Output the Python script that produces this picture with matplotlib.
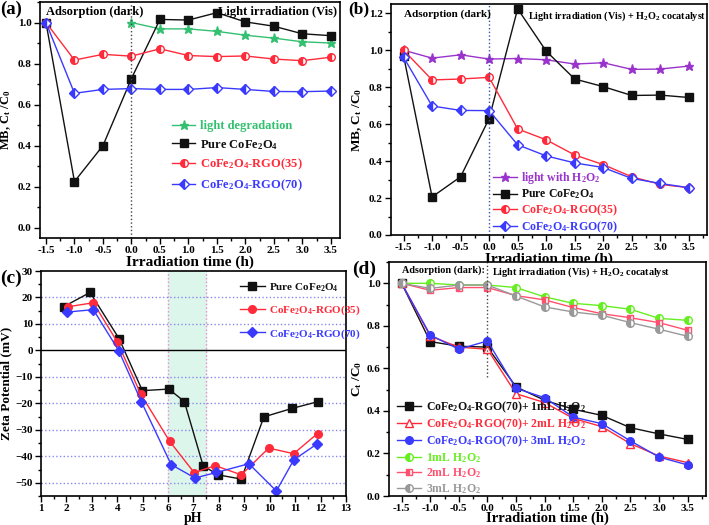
import matplotlib
matplotlib.use("Agg")
import matplotlib.pyplot as plt
from matplotlib.ticker import MultipleLocator

plt.rcParams['font.family'] = ['Liberation Serif', 'DejaVu Serif']
plt.rcParams['font.weight'] = 'bold'
plt.rcParams['axes.labelweight'] = 'bold'
plt.rcParams['mathtext.fontset'] = 'custom'
plt.rcParams['mathtext.rm'] = 'Liberation Serif:bold'
plt.rcParams['mathtext.it'] = 'Liberation Serif:bold'
plt.rcParams['mathtext.bf'] = 'Liberation Serif:bold'

# Zeit [h]
t = [-1.5, -1.0, -0.5, 0.0, 0.5, 1.0, 1.5, 2.0, 2.5, 3.0, 3.5]
t_light = [0.0, 0.5, 1.0, 1.5, 2.0, 2.5, 3.0, 3.5]

# (a) ohne H2O2
a_light = [1.0, 0.969, 0.969, 0.957, 0.938, 0.924, 0.906, 0.90]
a_pure = [1.0, 0.225, 0.40, 0.727, 1.015, 1.012, 1.048, 1.003, 0.982, 0.945, 0.936]
a_rgo35 = [1.0, 0.817, 0.845, 0.836, 0.872, 0.839, 0.834, 0.837, 0.822, 0.814, 0.831]
a_rgo70 = [1.0, 0.655, 0.674, 0.678, 0.674, 0.674, 0.683, 0.674, 0.664, 0.663, 0.666]

# (b) mit H2O2
b_light = [1.0, 0.957, 0.975, 0.952, 0.955, 0.948, 0.925, 0.932, 0.896, 0.898, 0.914]
b_pure = [0.97, 0.206, 0.315, 0.63, 1.224, 0.995, 0.844, 0.803, 0.755, 0.757, 0.744]
b_rgo35 = [1.0, 0.839, 0.844, 0.853, 0.574, 0.515, 0.433, 0.381, 0.315, 0.274, 0.256]
b_rgo70 = [0.962, 0.698, 0.674, 0.673, 0.488, 0.428, 0.39, 0.365, 0.306, 0.279, 0.256]

# (c) Zeta-Potential [mV]
ph_pure = [1.89, 2.93, 4.07, 4.99, 6.03, 6.64, 7.38, 7.97, 8.88, 9.77, 10.88, 11.88]
z_pure = [16.5, 21.9, 4.5, -15.2, -14.6, -19.3, -43.6, -47.0, -48.6, -25.1, -21.9, -19.4]
ph_rgo35 = [2.06, 3.06, 4.01, 4.92, 6.06, 7.03, 7.85, 8.88, 9.96, 10.94, 11.88]
z_rgo35 = [16.5, 18.0, 3.1, -16.4, -34.3, -46.2, -43.5, -47.0, -36.9, -39.0, -31.4]
ph_rgo70 = [2.04, 3.06, 4.06, 4.95, 6.12, 7.06, 7.9, 9.18, 10.26, 10.95, 11.85]
z_rgo70 = [14.5, 15.4, -0.1, -19.4, -43.1, -48.2, -46.1, -42.8, -53.1, -41.3, -35.4]

# (d) H2O2-Menge
d_rgo_1ml = [1.0, 0.726, 0.704, 0.70, 0.513, 0.45, 0.408, 0.379, 0.321, 0.292, 0.266]
d_rgo_2ml = [1.0, 0.752, 0.70, 0.69, 0.481, 0.439, 0.365, 0.326, 0.246, 0.188, 0.157]
d_rgo_3ml = [1.0, 0.757, 0.69, 0.729, 0.506, 0.462, 0.371, 0.34, 0.259, 0.183, 0.146]
d_1ml = [1.0, 1.0, 0.992, 0.992, 0.98, 0.936, 0.906, 0.895, 0.878, 0.835, 0.826]
d_2ml = [1.0, 0.967, 0.98, 0.98, 0.942, 0.922, 0.886, 0.857, 0.838, 0.815, 0.779]
d_3ml = [1.0, 0.976, 0.992, 0.992, 0.94, 0.889, 0.865, 0.85, 0.815, 0.784, 0.751]

BLACK = '#111111'
RED = '#ff2a3a'
BLUE = '#3a3aff'
GREEN = '#33c070'
PURPLE = '#9933cc'
LIME = '#66ee22'
PINK = '#ff5070'
GRAY = '#999999'

fig = plt.figure(figsize=(7.09, 5.25), dpi=100)
ax_a = fig.add_axes([0.0564, 0.5467, 0.4231, 0.4495])
ax_b = fig.add_axes([0.5515, 0.5524, 0.4457, 0.440])
ax_c = fig.add_axes([0.0578, 0.0552, 0.4302, 0.4286])
ax_d = fig.add_axes([0.5487, 0.0552, 0.4471, 0.4457])


def style(ax):
    for s in ax.spines.values():
        s.set_linewidth(1.2)
    ax.tick_params(which='both', direction='out', top=False, right=False,
                   labelsize=8, width=1.0)
    ax.tick_params(which='major', length=4, pad=2)
    ax.tick_params(which='minor', length=2.5)
    for lab in ax.get_xticklabels() + ax.get_yticklabels():
        lab.set_fontweight('bold')


def time_axis(ax, lo=-1.72, hi=3.82):
    ax.set_xticks(t)
    ax.set_xticklabels(['%.1f' % v for v in t])
    ax.xaxis.set_minor_locator(MultipleLocator(0.25))
    ax.set_xlim(lo, hi)
    ax.set_xlabel('Irradiation time (h)', fontsize=11, labelpad=0)


def color_legend(leg):
    for txt, h in zip(leg.get_texts(), leg.legend_handles):
        txt.set_color(h.get_color())


ms = 5.5

# ---- (a) ----
ax = ax_a
ax.plot(t_light, a_light, color=GREEN, marker='*', ms=6.5, lw=1, label='light degradation')
ax.plot(t, a_pure, color=BLACK, marker='s', ms=ms, lw=1, label='Pure CoFe$_2$O$_4$')
ax.plot(t, a_rgo35, color=RED, marker='o', ms=ms, lw=1, fillstyle='left',
        markerfacecoloralt='white', label='CoFe$_2$O$_4$-RGO(35)')
ax.plot(t, a_rgo70, color=BLUE, marker='D', ms=ms - 0.5, lw=1, fillstyle='left',
        markerfacecoloralt='white', label='CoFe$_2$O$_4$-RGO(70)')
ax.axvline(0, color='#444444', ls=':', lw=1)
time_axis(ax, -1.605, 3.66)
ax.set_ylim(-0.05, 1.1)
ax.yaxis.set_major_locator(MultipleLocator(0.2))
ax.yaxis.set_minor_locator(MultipleLocator(0.1))
ax.set_ylabel('MB, C$_t$ /C$_0$', fontsize=9)
ax.yaxis.set_label_coords(-0.09, 0.5)
ax.text(-1.5, 1.08, 'Adsorption (dark)', fontsize=9, va='top')
ax.text(3.6, 1.08, 'Light irradiation (Vis)', fontsize=9, va='top', ha='right')
leg = ax.legend(loc='upper left', bbox_to_anchor=(0.41, 0.535), frameon=False,
                fontsize=9, handlelength=1.9, labelspacing=0.42, handletextpad=0.4,
                borderpad=0.2)
color_legend(leg)
style(ax)

# ---- (b) ----
ax = ax_b
ax.plot(t, b_light, color=PURPLE, marker='*', ms=6.5, lw=1, label='light with H$_2$O$_2$')
ax.plot(t, b_pure, color=BLACK, marker='s', ms=ms, lw=1, label='Pure CoFe$_2$O$_4$')
ax.plot(t, b_rgo35, color=RED, marker='o', ms=ms, lw=1, fillstyle='left',
        markerfacecoloralt='white', label='CoFe$_2$O$_4$-RGO(35)')
ax.plot(t, b_rgo70, color=BLUE, marker='D', ms=ms - 0.5, lw=1, fillstyle='left',
        markerfacecoloralt='white', label='CoFe$_2$O$_4$-RGO(70)')
ax.axvline(0, color='#3355aa', ls=':', lw=1)
time_axis(ax)
ax.set_ylim(0, 1.25)
ax.yaxis.set_major_locator(MultipleLocator(0.2))
ax.yaxis.set_minor_locator(MultipleLocator(0.1))
ax.set_ylabel('MB, C$_t$ /C$_0$', fontsize=9.5)
ax.yaxis.set_label_coords(-0.085, 0.5)
ax.text(-1.5, 1.22, 'Adsorption (dark)', fontsize=8, va='top')
ax.text(3.8, 1.22, 'Light irradiation (Vis) + H$_2$O$_2$ cocatalyst', fontsize=7.3,
        va='top', ha='right')
leg = ax.legend(loc='upper left', bbox_to_anchor=(0.3, 0.31), frameon=False,
                fontsize=8.5, handlelength=2.0, labelspacing=0.1, handletextpad=0.4,
                borderpad=0.1)
color_legend(leg)
style(ax)

# ---- (c) ----
ax = ax_c
ax.axvspan(6, 7.5, color='#dcf6ec', zorder=0)
ax.axvline(6, color='#ee88cc', ls=':', lw=1, zorder=0.5)
ax.axvline(7.5, color='#ee88cc', ls=':', lw=1, zorder=0.5)
for yy in [20, 10, -10, -20, -30, -40, -50]:
    ax.axhline(yy, color='#8888ee', ls=':', lw=1, zorder=0.5)
ax.axhline(0, color='black', lw=1)
ax.plot(ph_pure, z_pure, color=BLACK, marker='s', ms=ms, lw=1, label='Pure CoFe$_2$O$_4$')
ax.plot(ph_rgo35, z_rgo35, color=RED, marker='o', ms=ms, lw=1, label='CoFe$_2$O$_4$-RGO(35)')
ax.plot(ph_rgo70, z_rgo70, color=BLUE, marker='D', ms=ms - 0.5, lw=1, label='CoFe$_2$O$_4$-RGO(70)')
ax.set_xlim(1, 13)
ax.set_ylim(-55, 30)
ax.xaxis.set_major_locator(MultipleLocator(1))
ax.xaxis.set_minor_locator(MultipleLocator(0.5))
ax.yaxis.set_major_locator(MultipleLocator(10))
ax.yaxis.set_minor_locator(MultipleLocator(5))
ax.set_xlabel('pH', fontsize=10, labelpad=-1)
ax.set_ylabel('Zeta Potential (mV)', fontsize=9.5)
ax.yaxis.set_label_coords(-0.095, 0.5)
leg = ax.legend(loc='upper left', bbox_to_anchor=(0.62, 1.0), frameon=False,
                fontsize=8, handlelength=2.2, labelspacing=0.9, handletextpad=0.4)
color_legend(leg)
style(ax)

# ---- (d) ----
ax = ax_d
ax.plot(t, d_rgo_1ml, color=BLACK, marker='s', ms=ms, lw=1,
        label='CoFe$_2$O$_4$-RGO(70)+ 1mL H$_2$O$_2$')
ax.plot(t, d_rgo_2ml, color=RED, marker='^', ms=ms, lw=1, mfc='white',
        label='CoFe$_2$O$_4$-RGO(70)+ 2mL H$_2$O$_2$')
ax.plot(t, d_rgo_3ml, color=BLUE, marker='o', ms=ms, lw=1,
        label='CoFe$_2$O$_4$-RGO(70)+ 3mL H$_2$O$_2$')
ax.plot(t, d_1ml, color=LIME, marker='o', ms=ms, lw=1, fillstyle='left',
        markerfacecoloralt='white', label='1mL H$_2$O$_2$')
ax.plot(t, d_2ml, color=PINK, marker='s', ms=ms - 0.5, lw=1, fillstyle='left',
        markerfacecoloralt='white', label='2mL H$_2$O$_2$')
ax.plot(t, d_3ml, color=GRAY, marker='o', ms=ms, lw=1, fillstyle='left',
        markerfacecoloralt='white', label='3mL H$_2$O$_2$')
ax.axvline(0, ymin=0.51, ymax=1, color='#444444', ls=':', lw=1)
time_axis(ax)
ax.set_xlabel('Irradiation time (h)', fontsize=10.5, labelpad=-1)
ax.set_ylim(0, 1.1)
ax.yaxis.set_major_locator(MultipleLocator(0.2))
ax.yaxis.set_minor_locator(MultipleLocator(0.1))
ax.set_ylabel('C$_t$ /C$_0$', fontsize=9.5)
ax.yaxis.set_label_coords(-0.079, 0.5)
ax.text(-0.05, 1.085, 'Adsorption (dark):', fontsize=7.3, va='top', ha='right')
ax.text(0.08, 1.085, 'Light irradiation (Vis) + H$_2$O$_2$ cocatalyst', fontsize=7.3, va='top')
leg = ax.legend(loc='lower left', bbox_to_anchor=(0.0, -0.035), frameon=False,
                fontsize=8.5, handlelength=2.0, labelspacing=0.15, handletextpad=0.4,
                borderpad=0.2)
color_legend(leg)
style(ax)

# Panel-Beschriftungen
fig.text(0.0, 0.998, '(a)', fontsize=13.5, fontweight='bold', va='top')
fig.text(0.4915, 0.998, '(b)', fontsize=12.5, fontweight='bold', va='top')
fig.text(0.0, 0.487, '(c)', fontsize=14, fontweight='bold', va='top')
fig.text(0.497, 0.503, '(d)', fontsize=14, fontweight='bold', va='top')

fig.savefig('out.png', dpi=100)
